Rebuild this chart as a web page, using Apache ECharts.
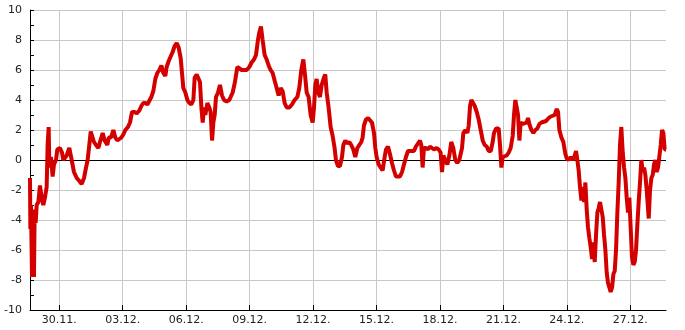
<!DOCTYPE html>
<html>
<head>
<meta charset="utf-8">
<script src="https://cdn.jsdelivr.net/npm/echarts@6/dist/echarts.min.js"></script>
<style>
html,body{margin:0;padding:0;background:#fff;}
#c{width:685px;height:330px;}
</style>
</head>
<body>
<div id="c"></div>
<script>
// Series start time (28.11. 14:45) and end offset in hours
const startTime = new Date(2023, 10, 28, 14, 45).getTime();
const endHours = 721.8;

// Hours since start
const hours = [
0,0.4,1.1,2.3,3.4,4.5,5.3,6.4,7.6,9.5,11.3,13.2,15.1,17.0,18.9,20.0,21.2,21.9,22.7,23.8,
25.7,27.2,29.5,31.0,34.0,36.3,37.8,39.7,41.6,44.6,47.3,49.9,53.0,56.0,58.6,61.3,63.6,65.4,67.3,68.9,
71.1,72.6,74.9,77.6,79.4,82.5,84.7,87.8,89.3,91.9,94.6,96.8,99.1,101.4,103.7,105.9,108.2,111.2,113.5,115.8,
118.8,121.1,124.1,126.4,128.6,130.9,133.2,135.4,137.7,140.0,142.2,144.5,146.8,149.1,151.3,153.6,155.1,157.4,159.6,161.9,
164.2,166.5,168.7,171.0,172.5,174.0,176.3,178.6,180.8,183.1,185.4,186.9,189.2,191.4,192.9,194.5,196.0,197.5,199.0,201.3,
203.5,205.0,206.6,208.1,209.6,211.1,213.4,215.6,217.9,220.2,223.2,226.2,
227.7,230.0,232.6,235.3,237.5,240.2,242.8,245.9,248.9,251.5,254.2,256.5,258.7,260.2,262.1,264.0,266.3,268.6,270.8,273.1,
275.4,277.6,279.9,282.2,284.5,286.7,289.0,291.3,294.3,297.3,300.3,303.4,305.6,307.9,310.2,312.4,314.0,316.2,318.5,320.8,
322.3,323.8,325.3,327.2,329.1,331.0,333.6,335.1,336.7,338.9,341.2,343.5,345.7,347.2,349.5,351.8,354.1,355.6,357.8,360.1,
362.4,364.6,366.9,369.2,371.5,373.7,376.0,377.5,379.0,381.3,383.6,385.8,388.1,390.4,391.9,393.4,395.7,397.9,400.2,402.5,
404.0,406.3,408.5,410.8,413.1,415.3,417.6,419.9,422.2,424.4,426.7,429.0,431.2,433.5,435.8,438.0,440.3,442.6,444.1,445.6,
447.1,449.4,451.7,453.9,456.2,458.5,461.5,463.8,466.0,467.6,469.1,471.3,473.6,475.9,478.1,480.4,482.7,484.9,487.2,
488.8,490.3,491.8,494.1,496.4,497.9,499.4,500.9,502.4,504.7,507.0,509.2,511.5,513.8,516.0,518.3,520.6,522.9,525.1,526.6,
528.9,531.9,533.4,535.0,536.5,538.7,541.0,543.3,545.5,547.8,549.3,550.8,552.4,553.9,555.4,556.9,559.2,561.4,563.7,565.2,
566.7,569.0,571.3,573.5,575.8,578.1,580.4,582.6,585.7,588.7,591.0,593.2,595.5,597.8,599.3,600.8,603.1,605.3,607.6,609.1,
611.4,613.6,615.9,618.2,619.7,621.2,622.7,624.2,625.8,627.3,628.8,630.3,631.8,633.3,634.8,636.3,637.9,639.4,640.9,642.4,
643.9,645.4,646.9,648.4,650.0,651.5,653.0,654.5,656.0,657.5,659.0,660.6,662.1,663.6,665.1,666.6,668.1,669.6,671.1,672.7,
674.2,675.7,677.2,678.7,680.2,681.7,683.2,684.8,686.3,687.8,689.3,690.8,692.3,693.8,695.4,696.9,698.4,699.9,702.2,703.7,
705.2,706.7,708.2,709.7,711.2,712.8,714.3,715.8,717.3,718.8,720.3,721.8
];

// Temperature values (°C)
const temps = [
-1.2,-4.6,-3.0,-7.8,-3.5,-7.8,-3.3,-4.2,-3.0,-2.8,-1.7,-2.5,-3.0,-2.5,-1.8,1.0,2.2,-0.2,-0.5,0.2,
-1.1,-0.3,0.0,0.7,0.8,0.5,0.0,0.0,0.3,0.8,0.0,-0.8,-1.2,-1.4,-1.6,-1.2,-0.5,0.0,1.0,1.9,
2.0,1.2,1.0,0.8,1.2,1.8,1.3,1.0,1.5,1.5,2.0,1.5,1.3,1.4,1.5,1.7,2.0,2.2,2.5,3.2,
3.2,3.1,3.3,3.6,3.8,3.8,3.7,3.8,4.2,4.6,5.4,5.8,6.0,6.3,5.8,5.6,6.2,6.6,6.6,7.2,
7.6,7.8,7.5,6.8,5.8,4.8,4.5,4.0,3.8,3.7,4.0,5.5,5.7,5.6,5.2,3.5,2.5,3.5,3.0,3.8,
3.5,3.2,1.3,2.5,3.0,4.2,4.5,5.0,4.3,4.0,3.9,4.0,
4.0,4.5,5.2,6.2,6.1,6.0,6.0,6.0,6.2,6.5,6.7,7.0,8.0,8.5,8.9,8.0,7.0,6.7,6.3,6.0,
5.8,5.3,4.8,4.3,4.8,4.6,3.8,3.5,3.5,3.7,4.0,4.2,4.8,6.0,6.7,5.5,4.5,4.2,3.0,2.5,
3.5,5.0,5.4,4.5,4.2,5.0,5.5,5.7,4.5,3.5,2.2,1.6,0.8,0.0,-0.4,-0.4,0.2,1.0,1.3,1.1,
1.2,1.0,0.7,0.2,0.8,1.0,1.2,1.5,2.3,2.7,2.8,2.7,2.5,1.8,0.8,0.2,-0.3,-0.5,-0.7,0.2,
0.7,0.9,0.4,-0.2,-0.7,-1.1,-1.1,-1.1,-0.8,-0.3,0.2,0.6,0.5,0.6,0.6,0.9,1.1,1.3,1.0,-0.5,
0.8,0.8,0.7,0.9,0.8,0.7,0.8,0.7,0.5,-0.8,0.3,0.0,-0.3,0.3,1.2,0.8,0.0,-0.2,0.0,
0.0,0.8,1.8,2.0,1.8,2.3,3.6,4.0,4.1,3.6,3.2,2.7,2.0,1.3,1.0,0.9,0.6,0.6,1.2,1.8,
2.1,2.1,1.0,-0.5,0.2,0.2,0.3,0.5,0.8,1.6,3.0,4.0,3.5,3.0,1.3,2.5,2.4,2.5,2.5,2.8,
2.4,2.0,1.8,2.0,2.1,2.4,2.5,2.6,2.6,2.8,2.9,3.0,3.0,3.4,3.2,2.0,1.5,1.2,0.4,0.1,
0.0,0.2,0.0,0.3,0.6,0.0,-0.7,-1.8,-2.7,-1.8,-2.8,-1.5,-3.3,-4.5,-5.2,-5.8,-6.6,-5.5,-6.8,-5.0,
-3.5,-3.2,-2.8,-2.8,-3.8,-5.0,-6.0,-7.5,-8.2,-8.5,-8.8,-8.5,-7.6,-7.4,-6.0,-3.5,-1.5,1.0,2.2,0.5,
-0.5,-1.2,-2.5,-3.5,-2.5,-4.5,-6.5,-7.0,-6.8,-6.0,-4.3,-2.8,-1.5,0.0,-0.8,-0.5,-1.0,-2.0,-3.9,-2.0,
-1.2,-1.0,-0.3,0.0,-0.8,-0.5,-0.6,1.0,2.0,1.8,0.7,0.7
];

// Tick dates (labels every 3 days)
const tickDates = [
[2023,11,30],[2023,12,3],[2023,12,6],[2023,12,9],[2023,12,12],
[2023,12,15],[2023,12,18],[2023,12,21],[2023,12,24],[2023,12,27]
];
const yTicks = [-10,-8,-6,-4,-2,0,2,4,6,8,10];

const HOUR = 3600000;
const tickValues = tickDates.map(d => (new Date(d[0], d[1]-1, d[2]).getTime() - startTime) / HOUR);
const seriesData = hours.map((h, i) => [h, temps[i]]);
const pad = n => (n < 10 ? '0' : '') + n;

const chart = echarts.init(document.getElementById('c'), null, {renderer: 'canvas'});
chart.setOption({
  animation: false,
  backgroundColor: '#ffffff',
  grid: {left: 30, right: 19, top: 10, bottom: 20, containLabel: false},
  xAxis: {
    type: 'value',
    min: 0,
    max: endHours,
    axisLine: {show: true, onZero: false, lineStyle: {color: '#000', width: 1}},
    axisTick: {show: true, inside: true, length: 5, lineStyle: {color: '#000'}, customValues: tickValues},
    axisLabel: {
      show: true, customValues: tickValues, color: '#222', fontFamily: 'DejaVu Sans', fontSize: 11, margin: 5,
      formatter: v => { const d = new Date(startTime + v * HOUR); return pad(d.getDate()) + '.' + pad(d.getMonth()+1) + '.'; }
    },
    splitLine: {show: true, lineStyle: {color: '#c8c8c8', width: 1}},
    minorTick: {show: false}
  },
  yAxis: {
    type: 'value',
    min: yTicks[0],
    max: yTicks[yTicks.length-1],
    interval: 2,
    axisLine: {show: true, lineStyle: {color: '#000', width: 1}},
    axisTick: {show: true, inside: true, length: 4, lineStyle: {color: '#000'}},
    minorTick: {show: true, splitNumber: 2, length: 4, lineStyle: {color: '#000'}},
    axisLabel: {color: '#222', fontFamily: 'DejaVu Sans', fontSize: 11, margin: 8},
    splitLine: {show: true, lineStyle: {color: '#c8c8c8', width: 1}}
  },
  series: [{
    type: 'line',
    data: seriesData,
    showSymbol: false,
    symbol: 'none',
    lineStyle: {color: '#d40000', width: 4},
    itemStyle: {color: '#d40000'},
    z: 3,
    markLine: {
      silent: true,
      symbol: 'none',
      label: {show: false},
      lineStyle: {color: '#000', width: 1, type: 'solid'},
      data: [{yAxis: 0}],
      z: 2
    }
  }]
});
</script>
</body>
</html>
